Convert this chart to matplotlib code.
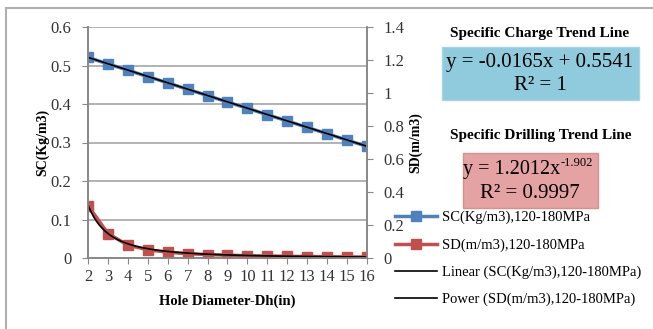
import matplotlib
matplotlib.use("Agg")
import matplotlib.pyplot as plt
import numpy as np
from matplotlib.patches import Rectangle

plt.rcParams['font.family'] = ['Liberation Serif', 'DejaVu Serif']

# ---- data ----
hole_diameter = [2, 3, 4, 5, 6, 7, 8, 9, 10, 11, 12, 13, 14, 15, 16]
sc_values = [0.521, 0.504, 0.488, 0.471, 0.455, 0.438, 0.422, 0.405, 0.389,
             0.372, 0.356, 0.339, 0.323, 0.306, 0.290]
sd_values = [0.318, 0.148, 0.078, 0.050, 0.035, 0.026, 0.021, 0.017, 0.014,
             0.012, 0.010, 0.009, 0.008, 0.007, 0.006]
sc_slope, sc_intercept = -0.0165, 0.5541
sd_coef, sd_exp = 1.2012, -1.902
left_ticks = [0, 0.1, 0.2, 0.3, 0.4, 0.5, 0.6]
right_ticks = [0, 0.2, 0.4, 0.6, 0.8, 1.0, 1.2, 1.4]
sc_label = "SC(Kg/m3),120-180MPa"
sd_label = "SD(m/m3),120-180MPa"
lin_label = "Linear (SC(Kg/m3),120-180MPa)"
pow_label = "Power (SD(m/m3),120-180MPa)"

W, H = 653, 329
fig = plt.figure(figsize=(W / 100, H / 100), dpi=100)
fx = lambda px: px / W
fy = lambda py: 1 - py / H

# outer border
fig.patches.append(Rectangle((fx(6), fy(345)), fx(700), fy(8) - fy(345),
                             transform=fig.transFigure, fill=False,
                             edgecolor='#B0B0B0', linewidth=1.5))

ax = fig.add_axes([fx(88), fy(258), fx(367) - fx(88), fy(27) - fy(258)])
ax2 = ax.twinx()

blue = '#4F81BD'
red = '#C0504D'
gray = '#888888'

x = np.array(hole_diameter, dtype=float)
l1, = ax.plot(x, sc_values, color=blue, lw=2.5, marker='s', ms=7.5, label=sc_label)
xs = np.linspace(2, 16, 200)
l3, = ax.plot(x, sc_slope * x + sc_intercept, color='black', lw=1.2, label=lin_label)
l2, = ax2.plot(x, sd_values, color=red, lw=2.5, marker='s', ms=7.5, label=sd_label)
l4, = ax2.plot(xs, sd_coef * xs ** sd_exp, color='black', lw=1.2, label=pow_label)

ax.set_xlim(2, 16)
ax.set_ylim(0, 0.6)
ax2.set_ylim(0, 1.4)
ax.set_xticks(hole_diameter)
ax.set_xticklabels([str(v) for v in hole_diameter])
ax.set_yticks(left_ticks)
ax.set_yticklabels(['0', '0.1', '0.2', '0.3', '0.4', '0.5', '0.6'])
ax2.set_yticks(right_ticks)
ax2.set_yticklabels(['0', '0.2', '0.4', '0.6', '0.8', '1', '1.2', '1.4'])
ax.grid(axis='y', color='#A6A6A6', lw=1.2)
ax.set_axisbelow(True)
for a in (ax, ax2):
    a.spines['top'].set_visible(False)
    for s in ('left', 'right', 'bottom'):
        a.spines[s].set_color(gray)
        a.spines[s].set_linewidth(1.2)
    a.tick_params(colors='#333333', labelsize=12, length=4, color=gray, pad=8)
ax.tick_params(axis='x', pad=4)
ax.set_xlabel('Hole Diameter-Dh(in)', fontsize=10.5, fontweight='bold', labelpad=7)
ax.set_ylabel('SC(Kg/m3)', fontsize=10, fontweight='bold', labelpad=1)
ax2.set_ylabel('SD(m/m3)', fontsize=10, fontweight='bold', labelpad=3)
ax.margins(x=0)

# trend line annotation boxes
fig.text(fx(540), fy(33), 'Specific Charge Trend Line', ha='center', va='center',
         fontsize=11, fontweight='bold')
fig.patches.append(Rectangle((fx(442), fy(100)), fx(639) - fx(442), fy(47) - fy(100),
                             transform=fig.transFigure, facecolor='#8FCBDD',
                             edgecolor='#A9D5E3', lw=1))
fig.text(fx(540), fy(63), 'y = -0.0165x + 0.5541', ha='center', va='center', fontsize=15)
fig.text(fx(540), fy(86), 'R² = 1', ha='center', va='center', fontsize=15)

fig.text(fx(541), fy(135), 'Specific Drilling Trend Line', ha='center', va='center',
         fontsize=11, fontweight='bold')
fig.patches.append(Rectangle((fx(463), fy(208)), fx(598) - fx(463), fy(153) - fy(208),
                             transform=fig.transFigure, facecolor='#E4A2A2',
                             edgecolor='#D59090', lw=1))
fig.text(fx(560), fy(169), 'y = 1.2012x', ha='right', va='center', fontsize=14.5)
fig.text(fx(561), fy(163), '-1.902', ha='left', va='center', fontsize=9)
fig.text(fx(530), fy(193), 'R² = 0.9997', ha='center', va='center', fontsize=15)

fig.legend(handles=[l1, l2, l3, l4], loc='upper left',
           bbox_to_anchor=(fx(395), fy(211)), frameon=False, fontsize=10.5,
           handlelength=2.9, handletextpad=0.3, labelspacing=0.95,
           borderaxespad=0, borderpad=0)

fig.savefig('out.png', dpi=100)
